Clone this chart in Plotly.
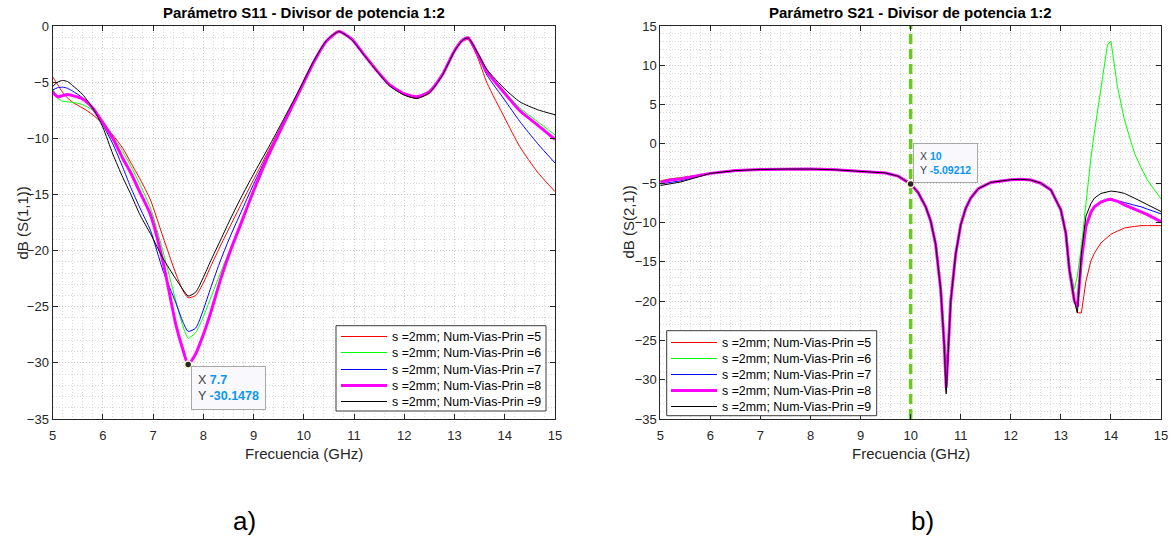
import plotly.graph_objects as go

FONT = "Liberation Sans, Arial, Helvetica, sans-serif"
W, H = 1171, 540

# ---------------- series definitions ----------------
series_names = [
    "s =2mm; Num-Vias-Prin =5",
    "s =2mm; Num-Vias-Prin =6",
    "s =2mm; Num-Vias-Prin =7",
    "s =2mm; Num-Vias-Prin =8",
    "s =2mm; Num-Vias-Prin =9",
]
series_colors = ["#ff0000", "#00ff00", "#0000ff", "#ff00ff", "#000000"]
series_widths = [1, 1, 1, 3, 1]

# ---------------- S11 (dB) ----------------
freq_s11 = [5.0, 5.1, 5.2, 5.3, 5.4, 5.6, 5.8, 6.0, 6.2, 6.4, 6.55, 6.75, 6.95,
            7.2, 7.45, 7.6, 7.7, 7.85, 8.0, 8.15, 8.35, 8.55, 8.75, 9.0, 9.3,
            9.6, 9.9, 10.2, 10.45, 10.7, 10.95, 11.2, 11.45, 11.7, 12.0, 12.25,
            12.5, 12.75, 13.0, 13.15, 13.27, 13.45, 13.65, 14.0, 14.3, 14.65, 15.0]

s11_n5 = [-4.5, -5.2, -5.9, -6.4, -6.8, -7.3, -7.9, -8.7, -9.7, -10.9, -12.1, -13.7, -15.5,
          -18.8, -22.0, -23.6, -24.2, -24.0, -22.9, -21.4, -19.5, -17.7, -15.9, -13.7, -11.1,
          -8.5, -5.9, -3.2, -1.35, -0.5, -1.2, -2.6, -4.0, -5.3, -6.15, -6.45,
          -6.0, -4.5, -2.3, -1.4, -1.2, -2.7, -5.1, -8.2, -10.75, -13.0, -14.75]
s11_n6 = [-5.6, -6.4, -6.7, -6.75, -6.8, -7.0, -7.5, -8.5, -9.8, -11.2, -12.4, -14.2, -16.2,
          -20.1, -24.4, -26.8, -27.8, -27.3, -25.9, -24.2, -21.9, -19.7, -17.6, -14.8, -11.6,
          -8.8, -6.0, -3.2, -1.35, -0.5, -1.15, -2.55, -3.95, -5.2, -6.0, -6.25,
          -5.8, -4.35, -2.2, -1.3, -1.05, -2.3, -4.0, -5.85, -7.3, -8.5, -9.7]
s11_n7 = [-5.7, -5.5, -5.45, -5.55, -5.8, -6.4, -7.4, -8.8, -10.5, -12.6, -14.3, -16.3, -18.2,
          -21.8, -24.6, -26.4, -27.2, -26.9, -25.3, -23.3, -20.8, -18.6, -16.6, -14.1, -11.3,
          -8.6, -5.85, -3.15, -1.3, -0.5, -1.2, -2.6, -4.0, -5.25, -6.1, -6.4,
          -5.9, -4.4, -2.2, -1.3, -1.05, -2.5, -4.4, -6.6, -8.5, -10.45, -12.2]
s11_n8 = [-5.85, -6.3, -6.2, -6.1, -6.2, -6.5, -7.3, -8.6, -10.0, -11.8, -13.0, -14.9, -16.8,
          -21.0, -26.5, -28.9, -30.1478, -29.2, -27.5, -25.5, -22.5, -19.9, -17.6, -14.7, -11.5,
          -8.7, -5.95, -3.2, -1.35, -0.5, -1.15, -2.55, -3.95, -5.2, -6.05, -6.3,
          -5.85, -4.4, -2.2, -1.3, -1.05, -2.4, -4.1, -6.0, -7.55, -8.8, -10.1]
s11_n9 = [-5.4, -5.0, -4.85, -4.95, -5.3, -6.1, -7.3, -9.0, -11.4, -13.5, -14.9, -16.9, -18.5,
          -20.7, -22.5, -23.5, -24.05, -23.7, -22.4, -20.9, -19.0, -17.1, -15.3, -13.2, -10.8,
          -8.3, -5.75, -3.1, -1.3, -0.5, -1.2, -2.6, -4.0, -5.3, -6.15, -6.45,
          -5.95, -4.45, -2.25, -1.3, -1.05, -2.3, -3.9, -5.6, -6.75, -7.45, -7.9]

# ---------------- S21 (dB) ----------------
freq_s21 = [5.0, 5.2, 5.4, 5.6, 5.8,
            6.0, 6.5, 7.0, 7.5, 8.0, 8.5, 9.0, 9.5, 9.75, 10.0, 10.15, 10.3, 10.4, 10.5,
            10.6, 10.67, 10.71, 10.8, 10.9, 11.0, 11.1, 11.2, 11.35, 11.6, 12.0, 12.2,
            12.4, 12.6,
            12.8, 13.0, 13.1, 13.17, 13.27, 13.33, 13.41, 13.5, 13.6, 13.67, 13.8,
            13.93, 14.0, 14.13, 14.27, 14.47, 14.6, 14.73, 15.0]

s21_n5 = [-4.7, -4.45, -4.3, -4.15, -3.95,
          -3.75, -3.4, -3.25, -3.2, -3.2, -3.3, -3.5, -3.7, -4.1, -5.09, -6.2, -8.0, -9.8, -12.8,
          -18.5, -25.5, -31.5, -20.0, -14.0, -10.3, -8.2, -6.9, -5.7, -4.9, -4.55, -4.5,
          -4.6, -5.0,
          -5.85, -8.4, -11.4, -15.5, -19.8, -21.5, -21.5, -17.5, -14.9, -13.9, -12.6,
          -11.8, -11.5, -11.1, -10.7, -10.5, -10.4, -10.4, -10.4]
s21_n6 = [-4.75, -4.5, -4.35, -4.2, -3.95,
          -3.75, -3.4, -3.25, -3.2, -3.2, -3.3, -3.5, -3.7, -4.1, -5.09, -6.2, -8.0, -9.8, -12.8,
          -18.5, -25.5, -31.3, -20.0, -14.0, -10.3, -8.2, -6.9, -5.7, -4.9, -4.55, -4.5,
          -4.6, -5.0,
          -5.85, -8.4, -11.4, -15.5, -18.5, -16.8, -13.0, -7.5, -1.8, 1.5, 7.0,
          12.6, 13.1, 7.3, 3.05, -1.2, -3.0, -4.6, -7.0]
s21_n7 = [-5.1, -4.9, -4.7, -4.4, -4.05,
          -3.75, -3.4, -3.25, -3.2, -3.2, -3.3, -3.5, -3.7, -4.1, -5.09, -6.2, -8.0, -9.8, -12.8,
          -18.5, -25.5, -31.3, -20.0, -14.0, -10.3, -8.2, -6.9, -5.7, -4.9, -4.55, -4.5,
          -4.6, -5.0,
          -5.85, -8.4, -11.4, -16.0, -20.0, -20.7, -14.8, -10.5, -8.7, -8.0, -7.4,
          -7.1, -7.05, -7.2, -7.45, -7.8, -8.0, -8.3, -8.9]
s21_n8 = [-4.9, -4.6, -4.45, -4.25, -4.0,
          -3.75, -3.4, -3.25, -3.2, -3.2, -3.3, -3.5, -3.7, -4.1, -5.09212, -6.2, -8.0, -9.8, -12.8,
          -18.5, -25.5, -31.0, -20.0, -14.0, -10.3, -8.2, -6.9, -5.7, -4.9, -4.55, -4.5,
          -4.6, -5.0,
          -5.85, -8.4, -11.4, -16.0, -20.0, -20.7, -14.8, -10.5, -8.7, -8.0, -7.4,
          -7.1, -7.05, -7.3, -7.75, -8.3, -8.6, -9.0, -9.9]
s21_n9 = [-5.3, -5.1, -4.85, -4.5, -4.1,
          -3.75, -3.4, -3.25, -3.2, -3.2, -3.3, -3.5, -3.7, -4.1, -5.09, -6.2, -8.0, -9.8, -12.8,
          -18.5, -25.5, -31.8, -20.0, -14.0, -10.3, -8.2, -6.9, -5.7, -4.9, -4.55, -4.5,
          -4.6, -5.0,
          -5.85, -8.4, -11.4, -16.0, -20.0, -21.5, -13.9, -9.2, -7.6, -6.9, -6.3,
          -6.07, -6.0, -6.1, -6.3, -6.9, -7.3, -7.7, -8.6]

# data cursors
tip_s11_x, tip_s11_y = 7.7, -30.1478
tip_s21_x, tip_s21_y = 10, -5.09212

x_ticks = list(range(5, 16))

# ---------------- geometry (pixels) ----------------
def px(x):
    return x / W

def py(y):
    return 1 - y / H

ax1_l, ax1_r = 52.5, 555.0
ax2_l, ax2_r = 660.3, 1161.0
ax_top, ax_bot = 26.0, 419.0

fig = go.Figure()

s11_series = [s11_n5, s11_n6, s11_n7, s11_n8, s11_n9]
s21_series = [s21_n5, s21_n6, s21_n7, s21_n8, s21_n9]

for name, col, wd, ys in zip(series_names, series_colors, series_widths, s11_series):
    fig.add_trace(go.Scatter(
        x=freq_s11, y=ys, mode="lines", name=name, showlegend=False,
        line=dict(color=col, width=wd, shape="spline", smoothing=0.6),
        xaxis="x", yaxis="y", hoverinfo="skip"))

# vertical cursor at the S21 data tip, drawn beneath the curves
fig.add_trace(go.Scatter(
    x=[tip_s21_x, tip_s21_x], y=[-35, 15], mode="lines", showlegend=False,
    line=dict(color="#66cc1a", width=3.5, dash="10px,5px"),
    xaxis="x2", yaxis="y2", hoverinfo="skip"))

for name, col, wd, ys in zip(series_names, series_colors, series_widths, s21_series):
    fig.add_trace(go.Scatter(
        x=freq_s21, y=ys, mode="lines", name=name, showlegend=False,
        line=dict(color=col, width=wd),
        xaxis="x2", yaxis="y2", hoverinfo="skip"))

# data-cursor dots
for xa, ya, tx, ty in (("x", "y", tip_s11_x, tip_s11_y), ("x2", "y2", tip_s21_x, tip_s21_y)):
    fig.add_trace(go.Scatter(
        x=[tx], y=[ty], mode="markers", showlegend=False, hoverinfo="skip",
        marker=dict(size=7, color="#262626", line=dict(color="#fbf6cf", width=1.5)),
        xaxis=xa, yaxis=ya))

GRID = "#cdcdcd"
MINOR = "#dadada"
AXC = "#262626"

def x_axis(dom, anchor):
    return dict(
        domain=dom, anchor=anchor, range=[5, 15], tickvals=x_ticks,
        ticks="inside", ticklen=5, tickcolor=AXC, tickwidth=1,
        showline=True, linecolor=AXC, linewidth=1, mirror="ticks",
        showgrid=True, gridcolor=GRID, griddash="1px,2px", gridwidth=1,
        minor=dict(dtick=0.2, showgrid=True, gridcolor=MINOR, griddash="1px,2px", ticks=""),
        zeroline=False, automargin=False, ticklabelstandoff=4,
        tickfont=dict(family=FONT, size=13, color=AXC),
    )

def y_axis(dom, anchor, rng, minor_step):
    return dict(
        domain=dom, anchor=anchor, range=rng, dtick=5, tick0=0,
        ticks="inside", ticklen=5, tickcolor=AXC, tickwidth=1,
        showline=True, linecolor=AXC, linewidth=1, mirror="ticks",
        showgrid=True, gridcolor=GRID, griddash="1px,2px", gridwidth=1,
        minor=dict(dtick=minor_step, showgrid=True, gridcolor=MINOR, griddash="1px,2px", ticks=""),
        zeroline=False, automargin=False,
        tickfont=dict(family=FONT, size=13, color=AXC),
    )

ydom = [py(ax_bot), py(ax_top)]

fig.update_layout(
    width=W, height=H,
    margin=dict(l=0, r=0, t=0, b=0),
    paper_bgcolor="white", plot_bgcolor="white",
    font=dict(family=FONT, color=AXC),
    showlegend=False,
    xaxis=x_axis([px(ax1_l), px(ax1_r)], "y"),
    yaxis=y_axis(ydom, "x", [-35, 0], 1),
    xaxis2=x_axis([px(ax2_l), px(ax2_r)], "y2"),
    yaxis2=y_axis(ydom, "x2", [-35, 15], 1),
)

TIPVAL = "#0b96ef"

def tip_text(xv, yv):
    return (f"X <b><span style='color:{TIPVAL}'>{xv}</span></b><br>"
            f"Y <b><span style='color:{TIPVAL}'>{yv}</span></b>")

def label(text, x, y, size, bold=False, angle=0, color="#000000"):
    return dict(text=f"<b>{text}</b>" if bold else text, xref="paper", yref="paper",
                x=px(x), y=py(y), xanchor="center", yanchor="middle", showarrow=False,
                textangle=angle, font=dict(family=FONT, size=size, color=color))

annotations = [
    label("Parámetro S11 - Divisor de potencia 1:2", (ax1_l + ax1_r) / 2, 13, 15, bold=True),
    label("Parámetro S21 - Divisor de potencia 1:2", (ax2_l + ax2_r) / 2, 13, 15, bold=True),
    label("Frecuencia (GHz)", (ax1_l + ax1_r) / 2, 453, 15, color=AXC),
    label("Frecuencia (GHz)", (ax2_l + ax2_r) / 2, 453, 15, color=AXC),
    label("dB (S(1,1))", 22, (ax_top + ax_bot) / 2, 15, angle=-90, color=AXC),
    label("dB (S(2,1))", 628, (ax_top + ax_bot) / 2, 15, angle=-90, color=AXC),
    label("a)", 244, 521, 26),
    label("b)", 922, 521, 26),
    dict(text=tip_text(tip_s11_x, tip_s11_y), xref="x", yref="y",
         x=tip_s11_x, y=tip_s11_y, xanchor="left", yanchor="top", xshift=3, yshift=-1,
         showarrow=False, align="left", bgcolor="#f8f8fd", bordercolor="#a8a8a8",
         borderwidth=1, borderpad=6, font=dict(family=FONT, size=12.5, color="#404040")),
    dict(text=tip_text(tip_s21_x, tip_s21_y), xref="x2", yref="y2",
         x=tip_s21_x, y=tip_s21_y, xanchor="left", yanchor="bottom", xshift=2, yshift=1,
         showarrow=False, align="left", bgcolor="#f8f8fd", bordercolor="#a8a8a8",
         borderwidth=1, borderpad=6, font=dict(family=FONT, size=10.5, color="#404040")),
]

# legend boxes: (left, top, right, bottom, first-row y, row step, sample x0, sample x1)
legend_boxes = [
    (336.0, 325.7, 546.0, 411.0, 336.0, 16.3, 341.0, 387.0),
    (666.7, 330.7, 876.7, 415.7, 341.5, 16.0, 671.0, 717.0),
]
shapes = []
for (bl, bt, br, bb, r0, step, s0, s1) in legend_boxes:
    shapes.append(dict(type="rect", xref="paper", yref="paper",
                       x0=px(bl), x1=px(br), y0=py(bb), y1=py(bt),
                       fillcolor="white", line=dict(color="#3a3a3a", width=1), layer="above"))
    for i, (name, col, wd) in enumerate(zip(series_names, series_colors, series_widths)):
        yy = round(r0 + i * step) + (0.5 if wd % 2 else 0.0)
        shapes.append(dict(type="line", xref="paper", yref="paper",
                           x0=px(s0), x1=px(s1), y0=py(yy), y1=py(yy),
                           line=dict(color=col, width=wd), layer="above"))
        annotations.append(dict(text=name, xref="paper", yref="paper",
                                x=px(s1 + 3), y=py(yy), xanchor="left", yanchor="middle",
                                showarrow=False,
                                font=dict(family=FONT, size=12.4, color="#000000")))

fig.update_layout(annotations=annotations, shapes=shapes)

fig.write_html("out.html")
